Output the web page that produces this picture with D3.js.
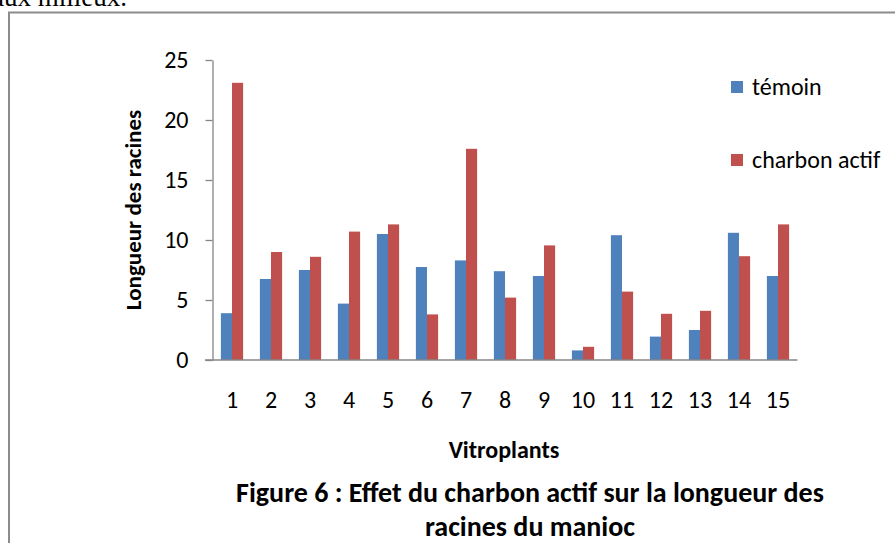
<!DOCTYPE html>
<html>
<head>
<meta charset="utf-8">
<script src="https://cdn.jsdelivr.net/npm/d3@7"></script>
<style>
  body { margin: 0; background: #fff; }
  svg { display: block; }
</style>
</head>
<body>
<div id="chart"></div>
<script>
// Data.
const vitroplants = ['1', '2', '3', '4', '5', '6', '7', '8', '9', '10', '11', '12', '13', '14', '15'];
const temoin = [3.9, 6.75, 7.5, 4.7, 10.5, 7.75, 8.3, 7.4, 7.0, 0.8, 10.4, 1.95, 2.5, 10.6, 7.0];
const charbonActif = [23.1, 9.0, 8.6, 10.7, 11.3, 3.8, 17.6, 5.2, 9.55, 1.1, 5.7, 3.85, 4.1, 8.65, 11.3];
const seriesNames = ['témoin', 'charbon actif'];
const yTicks = [0, 5, 10, 15, 20, 25];

const BLUE = '#4F81BD';
const RED = '#C0504D';
const AXIS = '#868686';
const FONT = 'Carlito, Lato, sans-serif';

const width = 895;
const height = 543;

const svg = d3.select('#chart')
  .append('svg')
  .attr('width', width)
  .attr('height', height);

// Page text cut off at the top, as in the scanned page.
svg.append('text')
  .attr('x', -8)
  .attr('y', 6)
  .attr('font-family', '"Liberation Serif", "Times New Roman", serif')
  .attr('font-size', 27)
  .attr('fill', '#000')
  .text('aux milieux.');

// Frame around the figure.
svg.append('path')
  .attr('d', `M9,${height} V12.5 H${width}`)
  .attr('fill', 'none')
  .attr('stroke', '#8c8c8c')
  .attr('stroke-width', 2);

// Scales.
const x0 = d3.scaleBand()
  .domain(vitroplants)
  .range([212.5, 797.5])
  .paddingInner(0.43)
  .paddingOuter(0.215);

const x1 = d3.scaleBand()
  .domain(seriesNames)
  .range([0, x0.bandwidth()]);

const y = d3.scaleLinear()
  .domain([0, 25])
  .range([360, 60]);

const colour = d3.scaleOrdinal()
  .domain(seriesNames)
  .range([BLUE, RED]);

const rows = vitroplants.map((v, i) => ({
  key: v,
  values: [
    { series: seriesNames[0], value: temoin[i] },
    { series: seriesNames[1], value: charbonActif[i] }
  ]
}));

// Bars.
svg.append('g')
  .selectAll('g')
  .data(rows)
  .join('g')
  .attr('transform', d => `translate(${x0(d.key)},0)`)
  .selectAll('rect')
  .data(d => d.values)
  .join('rect')
  .attr('x', d => x1(d.series))
  .attr('y', d => y(d.value))
  .attr('width', x1.bandwidth())
  .attr('height', d => y(0) - y(d.value))
  .attr('fill', d => colour(d.series));

// Y axis.
const yAxis = svg.append('g')
  .attr('transform', 'translate(212.5,0)')
  .call(d3.axisLeft(y).tickValues(yTicks).tickSize(7).tickPadding(17).tickSizeOuter(0));

yAxis.select('.domain').attr('stroke', AXIS).attr('stroke-width', 1.3);
yAxis.selectAll('.tick line').attr('stroke', AXIS).attr('stroke-width', 1.3);
yAxis.selectAll('.tick text')
  .attr('font-family', FONT)
  .attr('font-size', 24)
  .attr('fill', '#000');

// X axis.
const xAxis = svg.append('g')
  .attr('transform', `translate(0,${y(0)})`)
  .call(d3.axisBottom(x0).tickSize(0).tickPadding(31));

xAxis.select('.domain')
  .attr('d', 'M205,0 H797.5')
  .attr('stroke', AXIS)
  .attr('stroke-width', 1.3);
xAxis.selectAll('.tick text')
  .attr('font-family', FONT)
  .attr('font-size', 24)
  .attr('fill', '#000');

// Axis titles.
svg.append('text')
  .attr('transform', 'translate(141,210) rotate(-90)')
  .attr('text-anchor', 'middle')
  .attr('font-family', FONT)
  .attr('font-weight', 'bold')
  .attr('font-size', 23)
  .attr('fill', '#000')
  .text('Longueur des racines');

svg.append('text')
  .attr('x', 504)
  .attr('y', 458)
  .attr('text-anchor', 'middle')
  .attr('font-family', FONT)
  .attr('font-weight', 'bold')
  .attr('font-size', 24)
  .attr('fill', '#000')
  .text('Vitroplants');

// Legend.
const legend = svg.append('g')
  .selectAll('g')
  .data(seriesNames)
  .join('g')
  .attr('transform', (d, i) => `translate(731,${81 + i * 73})`);

legend.append('rect')
  .attr('width', 12)
  .attr('height', 12)
  .attr('fill', d => colour(d));

legend.append('text')
  .attr('x', 21)
  .attr('y', 14)
  .attr('font-family', FONT)
  .attr('font-size', 24)
  .attr('fill', '#000')
  .text(d => d);

// Caption.
const caption = ['Figure 6 : Effet du charbon actif sur la longueur des', 'racines du manioc'];
svg.append('g')
  .selectAll('text')
  .data(caption)
  .join('text')
  .attr('x', 530)
  .attr('y', (d, i) => 502 + i * 34)
  .attr('text-anchor', 'middle')
  .attr('font-family', FONT)
  .attr('font-weight', 'bold')
  .attr('font-size', 28)
  .attr('fill', '#000')
  .text(d => d);
</script>
</body>
</html>
